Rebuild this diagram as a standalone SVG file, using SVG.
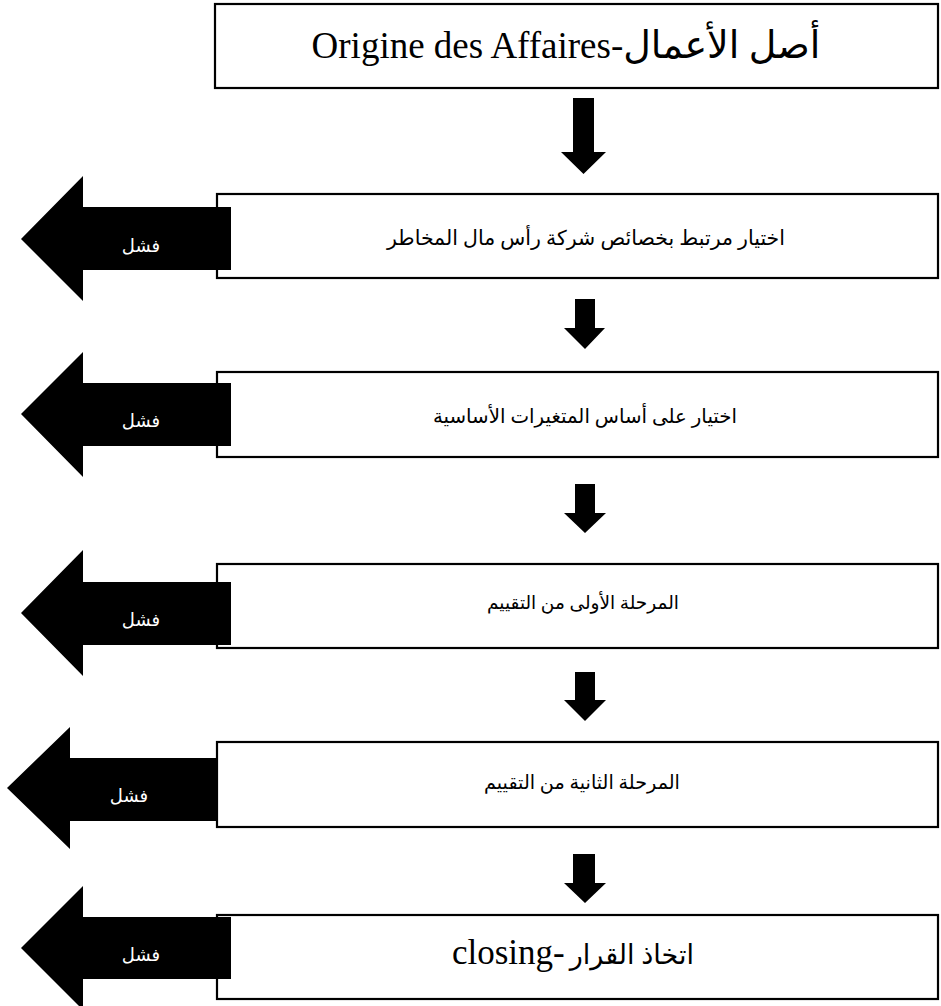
<svg xmlns="http://www.w3.org/2000/svg" width="941" height="1006" viewBox="0 0 941 1006">
<style>
.box{fill:#fff;stroke:#000;stroke-width:2.2}
.t{font-family:"Liberation Serif","DejaVu Sans",serif;font-size:20px;fill:#000;text-anchor:middle}
.t1{font-size:37px}
.ar1{font-size:38px}
.lat{font-size:35px}
.f{fill:#000}
.fl{font-family:"DejaVu Sans","Noto Sans",sans-serif;font-size:18px;fill:#fff;text-anchor:middle}
</style>
<rect width="941" height="1006" fill="#fff"/>
<g id="node1"><rect class="box" x="215" y="4" width="723" height="84"/><text class="t t1" x="566" y="58">Origine des Affaires-<tspan class="ar1">أصل الأعمال</tspan></text></g>
<g id="node2"><rect class="box" x="217" y="194" width="721" height="84"/><text class="t" x="586" y="245" style="font-size:20.5px">اختيار مرتبط بخصائص شركة رأس مال المخاطر</text></g>
<g id="node3"><rect class="box" x="217" y="372" width="721" height="85"/><text class="t" x="585" y="423" style="font-size:19.8px">اختيار على أساس المتغيرات الأساسية</text></g>
<g id="node4"><rect class="box" x="217" y="564" width="721" height="84"/><text class="t" x="583" y="609" style="font-size:18.5px">المرحلة الأولى من التقييم</text></g>
<g id="node5"><rect class="box" x="217" y="742" width="721" height="85"/><text class="t" x="582" y="789" style="font-size:19.2px">المرحلة الثانية من التقييم</text></g>
<g id="node6"><rect class="box" x="217" y="915" width="721" height="84"/><text class="t" x="573" y="964"><tspan class="lat">closing-</tspan> <tspan style="font-size:27px">اتخاذ القرار</tspan></text></g>
<g id="connectors">
<polygon class="f" points="573,98 594,98 594,152 606,152 583.5,174 561,152 573,152"/>
<polygon class="f" points="575,299 595,299 595,328 605,328 585,349 564,328 575,328"/>
<polygon class="f" points="575,484 595,484 595,513 606,513 585,533 564,513 575,513"/>
<polygon class="f" points="575,672 595,672 595,700 606,700 585,721 564,700 575,700"/>
<polygon class="f" points="573,854 595,854 595,883 606,883 585,903 564,883 573,883"/>
</g>
<g id="fail1"><polygon class="f" points="231,207 83,207 83,176 21,239 83,301 83,270 231,270"/><text class="fl" x="141" y="252">فشل</text></g>
<g id="fail2"><polygon class="f" points="231,383 83,383 83,352 21,414 83,477 83,446 231,446"/><text class="fl" x="141" y="427">فشل</text></g>
<g id="fail3"><polygon class="f" points="231,582 83,582 83,550 21,613 83,676 83,645 231,645"/><text class="fl" x="141" y="626">فشل</text></g>
<g id="fail4"><polygon class="f" points="216,758 70,758 70,727 7,788 70,849 70,821 216,821"/><text class="fl" x="129" y="802">فشل</text></g>
<g id="fail5"><polygon class="f" points="231,917 83,917 83,886 21,948 83,1010 83,979 231,979"/><text class="fl" x="141" y="961">فشل</text></g>
</svg>
